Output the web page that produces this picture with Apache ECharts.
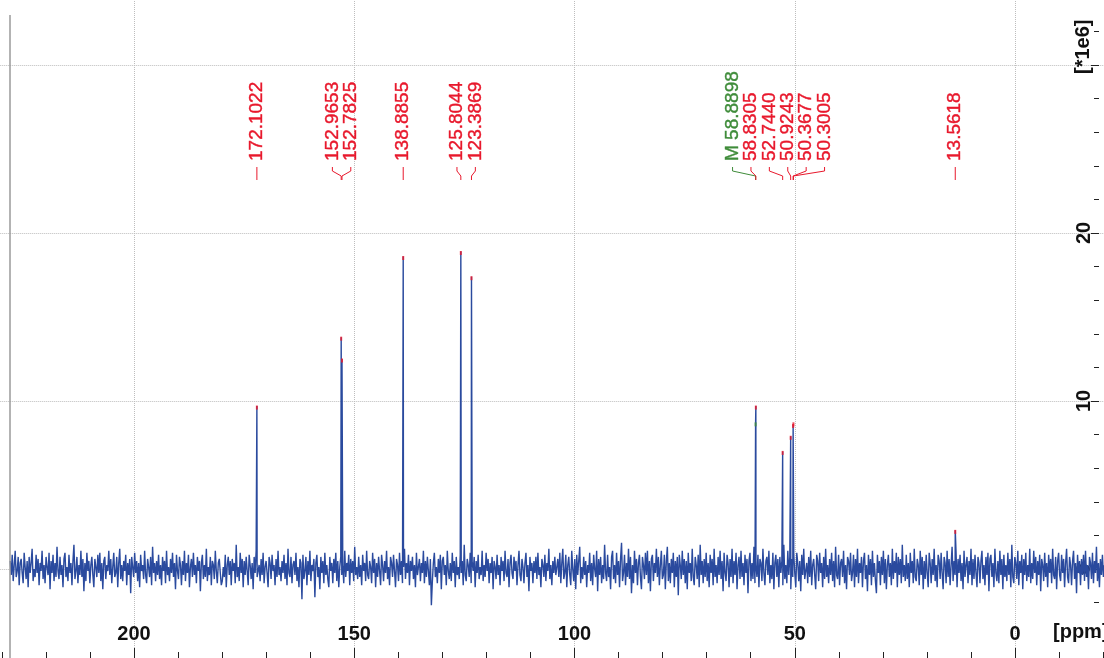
<!DOCTYPE html>
<html><head><meta charset="utf-8">
<script src="https://cdn.jsdelivr.net/npm/echarts@6/dist/echarts.min.js"></script>
<style>html,body{margin:0;padding:0;background:#fff}#c{width:1104px;height:658px}</style>
</head><body><div id="c"></div>
<script>
// spectrum range (ppm) of the sampled baseline
const ppmStart = 228.1, ppmEnd = -20.3;
// baseline noise, in units of 0.12e6
const noiseUnit = 0.12;
const noise = [
4,-3,7,-6,2,9,-4,-1,6,-8,3,5,-2,-7,8,1,-5,4,-9,6,-2,3,10,-6,0,
-4,7,-2,5,-8,3,-1,9,-5,2,-7,6,1,-3,8,-10,4,-2,7,-6,3,-4,11,-1,-5,
6,-3,2,-9,5,8,-4,1,-6,7,-2,3,-8,4,12,-5,-1,6,-7,2,-3,9,-4,5,-11,
3,-6,8,-1,4,-7,2,6,-3,-9,5,1,-4,7,-2,8,-6,3,-10,4,6,-5,2,-1,9,
-3,5,-7,1,8,-4,-2,6,-9,3,10,-5,2,-6,4,-1,7,-8,3,-3,5,-12,6,1,-4,
8,-2,4,-6,3,-9,7,-1,2,-5,9,-3,-7,5,1,-4,6,-8,11,-2,3,-6,4,-3,7,
-5,2,-8,6,-1,4,-7,9,-3,1,-6,5,-2,8,-4,3,-10,7,-1,-5,6,2,-8,4,-3,
9,-6,3,-2,7,-9,1,5,-4,8,-3,2,-7,6,-1,4,-11,3,7,-5,2,-4,10,-6,1,
-3,6,-8,4,2,-5,9,-1,-7,3,5,-2,-8,-6,1,-4,7,-9,2,6,-3,4,-8,5,-1,
3,-7,12,-4,1,-6,8,-2,5,-9,4,-3,6,-1,-8,7,2,-5,3,-10,6,-2,9,-4,-4,
2,-6,5,-3,8,-7,1,4,-2,-9,6,3,-5,7,-1,2,-8,5,-4,9,-3,1,-6,4,-2,
7,-5,3,-8,10,-2,-4,6,-7,2,4,-3,8,-6,1,-9,5,3,-15,7,-5,-1,6,-8,4,
-3,9,-6,2,-1,5,-14,3,7,-4,1,-10,6,-2,4,-7,8,-3,2,-5,-9,6,-1,3,-7,
5,-2,8,-6,4,-9,1,6,-3,2,-7,9,-4,3,-1,7,-8,5,-2,4,-6,11,-3,1,-5,
6,-4,2,-8,7,-1,3,-6,9,-3,-5,4,1,-7,8,-2,5,-9,3,-4,6,-1,-8,7,2,
-6,4,-2,9,-5,1,-8,6,3,-4,7,-1,-9,5,2,-6,8,-3,4,-7,1,10,-5,3,-2,
7,-8,4,-1,6,-5,2,-9,8,-3,1,5,-6,3,-2,9,-7,4,-4,6,-1,-8,5,-18,-6,
3,8,-4,1,-7,5,-2,7,-10,4,6,-3,2,-8,9,-1,-5,3,-6,8,-2,4,-9,6,-3,
1,-5,7,-2,4,-8,12,-3,-6,5,2,-4,8,-7,3,-1,6,-9,4,-2,7,-5,1,-3,9,
-6,2,-4,8,-1,5,-7,3,-2,6,-10,4,1,-5,7,-3,2,-8,6,-1,4,-6,9,-2,-4,
5,-9,3,7,-2,-5,6,-1,4,-8,2,9,-3,-6,5,1,-7,3,8,-4,2,-11,6,-1,3,
-7,4,-2,6,-5,8,-3,1,-9,5,2,-4,7,-6,3,-1,10,-5,2,-8,4,-2,6,-3,1,
5,-4,8,-7,3,10,-5,-2,7,-9,2,6,-3,-8,9,0,-6,5,-10,7,-3,4,11,-7,1,
-5,6,-3,4,-9,2,-2,8,-6,3,-8,7,0,-4,9,-11,5,-3,6,-7,2,-5,12,-2,-6,
7,-4,1,-10,6,9,-5,2,-7,8,-3,4,-9,5,13,-6,-2,7,-8,3,-4,10,-5,6,-12,
2,-7,9,-2,5,-8,3,7,-4,-10,6,2,-5,8,-3,9,-7,4,-11,5,7,-6,3,-2,10,
-4,6,-8,2,9,-5,-3,7,-10,4,11,-6,3,-7,5,-2,8,-9,4,-4,6,-13,7,2,-5,
9,-3,5,-7,4,-10,8,-2,3,-6,10,-4,-8,6,2,-5,7,-9,12,-3,4,-7,5,-4,8,
-6,3,-9,7,-2,5,-8,10,-4,2,-7,6,-3,9,-5,4,-11,8,-2,-6,7,3,-9,5,-4,
10,-7,4,-3,8,-10,2,6,-5,9,-4,3,-8,7,-2,5,-12,4,8,-6,3,-5,11,-7,2,
-4,7,-9,5,3,-6,10,-2,-8,4,6,-3,9,-7,2,-5,8,-10,3,7,-4,5,-9,6,-2,
4,-8,12,-5,2,-7,9,-3,6,-10,5,-4,7,-2,-9,8,3,-6,4,-11,7,-3,10,-5,-1,
3,-7,6,-4,9,-8,2,5,-3,-10,7,4,-6,8,-2,3,-9,6,-5,10,-4,2,-7,5,-3,
8,-6,4,-9,11,-3,-5,7,-8,3,5,-4,9,-7,2,-10,6,4,-3,8,-6,-2,7,-9,5,
-4,10,-7,3,-2,6,-9,4,8,-5,2,-11,7,-3,5,-8,9,-4,3,-6,-12,7,-2,4,-8,
6,-3,9,-7,5,-10,2,7,-4,3,-8,10,-5,4,-2,8,-9,6,-3,5,-7,12,-4,2,-6,
7,-5,3,-9,8,-2,4,-7,10,-4,-6,5,2,-8,9,-3,6,-10,4,-5,7,-2,-9,8,3,
-7,5,-3,10,-6,2,-9,7,4,-5,8,-2,-10,6,3,-7,9,-4,5,-8,2,11,-6,4,-3,
8,-9,5,-2,7,-6,3,-10,9,-4,2,6,-7,4,-3,10,-8,5,-5,7,-2,-9,6,3,-7,
4,9,-5,2,-8,6,-3,8,-11,5,7,-4,3,-9,10,-2,-6,4,-7,9,-3,5,-10,7,-4,
2,-6,8,-3,5,-9,12,-4,-7,6,3,-5,9,-8,4,-2,7,-10,5,-3,8,-6,2,-4,10,
-7,3,-5,9,-2,6,-8,4,-3,7,-11,5,2,-6,8,-4,3,-9,7,-2,5,-7,10,-3,-5,
6,-10,4,8,-3,-6,7,-2,5,-9,3,10,-4,-7,6,2,-8,4,9,-5,3,-12,7,-2,4,
-8,5,-3,7,-6,9,-4,2,-10,6,3,-5,8,-7,4,-2,11,-6,3,-9,5,-3,7,-4,2
];
// picked peaks
const peakPpm    = [172.1022, 152.9653, 152.7825, 138.8855, 125.8044, 123.3869, 58.8898, 58.8305, 52.7440, 50.9243, 50.3677, 50.3005, 13.5618];
const peakHeight = [9.7, 13.8, 12.5, 18.6, 18.9, 17.4, 8.7, 9.7, 7.0, 7.9, 8.6, 8.7, 2.3];
const peakMark   = ['', '', '', '', '', '', 'M', '', '', '', '', '', ''];
const yUnitLabel = '[*1e6]';
const xUnitLabel = '[ppm]';

const FONT = '"Liberation Sans", Arial, Helvetica, sans-serif';
const RED = '#e8182c', GREEN = '#3f8c3a', BLUE = '#2a4a9e';

const step = (ppmStart - ppmEnd) / (noise.length - 1);
const pts = noise.map((v, i) => [ppmStart - i * step, v * noiseUnit]);
peakPpm.forEach((p, i) => pts.push([p, peakHeight[i]]));
pts.sort((a, b) => b[0] - a[0]);

const chart = echarts.init(document.getElementById('c'), null, {renderer: 'canvas'});
chart.setOption({
  animation: false,
  backgroundColor: '#fff',
  grid: {left: -86.25, right: -131.25, top: -103, bottom: -79, containLabel: false, outerBoundsMode: 'none'},
  xAxis: {
    type: 'value', inverse: true, min: -50, max: 250, interval: 50, offset: -79,
    axisLine: {show: false, onZero: false},
    axisTick: {show: true, inside: true, length: 10, lineStyle: {color: '#222', width: 1}},
    minorTick: {show: true, splitNumber: 5, length: 6, lineStyle: {color: '#222', width: 1}},
    axisLabel: {inside: true, margin: 14, fontSize: 20, fontWeight: 'bold', color: '#111', fontFamily: FONT},
    splitLine: {show: true, lineStyle: {color: '#bdbdbd', type: 'dotted', width: 1}}
  },
  yAxis: {
    type: 'value', position: 'right', min: -10, max: 40, interval: 10, offset: -136.25,
    axisLine: {show: false, onZero: false},
    axisTick: {show: true, inside: true, length: 8, lineStyle: {color: '#222', width: 1}},
    minorTick: {show: true, splitNumber: 5, length: 5, lineStyle: {color: '#222', width: 1}},
    axisLabel: {inside: true, rotate: 90, margin: 5, fontSize: 20, fontWeight: 'bold', color: '#111', fontFamily: FONT,
      formatter: v => (v >= 0 && v <= 20) ? String(v) : ''},
    splitLine: {show: true, lineStyle: {color: '#bdbdbd', type: 'dotted', width: 1}}
  },
  series: [
    {type: 'line', data: pts, showSymbol: false, symbol: 'none', sampling: null,
     lineStyle: {color: BLUE, width: 1.4}, z: 2},
    {type: 'scatter', data: peakPpm.map((p, i) => [p, peakHeight[i]]), symbol: 'rect',
     symbolSize: [2, 4], symbolOffset: [0, 1.5],
     itemStyle: {color: p => peakMark[p.dataIndex] === 'M' ? GREEN : RED}, z: 3}
  ]
});

// peak-label layout: spread overlapping labels around the mean of their peaks
const px = peakPpm.map(p => chart.convertToPixel({xAxisIndex: 0}, p));
const order = peakPpm.map((p, i) => i).sort((a, b) => px[a] - px[b]);
const gap = 18.4;
let groups = order.map(i => ({idx: [i], c: px[i]}));
let changed = true;
while (changed) {
  changed = false;
  for (let g = 0; g < groups.length - 1; g++) {
    const A = groups[g], B = groups[g + 1];
    const aEnd = A.c + (A.idx.length - 1) * gap / 2;
    const bStart = B.c - (B.idx.length - 1) * gap / 2;
    if (bStart - aEnd < gap) {
      const idx = A.idx.concat(B.idx);
      const c = idx.reduce((s, i) => s + px[i], 0) / idx.length;
      groups.splice(g, 2, {idx, c});
      changed = true; break;
    }
  }
}
const lx = [];
groups.forEach(G => G.idx.forEach((i, k) => { lx[i] = G.c + (k - (G.idx.length - 1) / 2) * gap; }));

const gfx = [];
peakPpm.forEach((p, i) => {
  const col = peakMark[i] === 'M' ? GREEN : RED;
  const txt = (peakMark[i] ? peakMark[i] + ' ' : '') + p.toFixed(4);
  gfx.push({type: 'text', x: lx[i], y: 161, rotation: Math.PI / 2, z: 10,
    style: {text: txt, fill: col, fontSize: 19, fontFamily: FONT, align: 'left', verticalAlign: 'middle',
      stroke: col, lineWidth: 0.4}});
  gfx.push({type: 'polyline', z: 10,
    shape: {points: [[lx[i], 167], [lx[i], 171], [px[i], 176], [px[i], 180]]},
    style: {stroke: col, lineWidth: 1, fill: null}});
});
const y30 = chart.convertToPixel({yAxisIndex: 0}, 30);
gfx.push({type: 'text', x: 1083, y: y30 + 9, rotation: Math.PI / 2, z: 10,
  style: {text: yUnitLabel, fill: '#111', fontSize: 20, fontWeight: 'bold', fontFamily: FONT, align: 'left', verticalAlign: 'middle'}});
gfx.push({type: 'text', x: 1053, y: 632, z: 10,
  style: {text: xUnitLabel, fill: '#111', fontSize: 20, fontWeight: 'bold', fontFamily: FONT, align: 'left', verticalAlign: 'middle'}});
gfx.push({type: 'line', z: 10, shape: {x1: 10, y1: 15, x2: 10, y2: 658}, style: {stroke: '#9a9a9a', lineWidth: 1.5}});
chart.setOption({graphic: gfx});
</script>
</body></html>
